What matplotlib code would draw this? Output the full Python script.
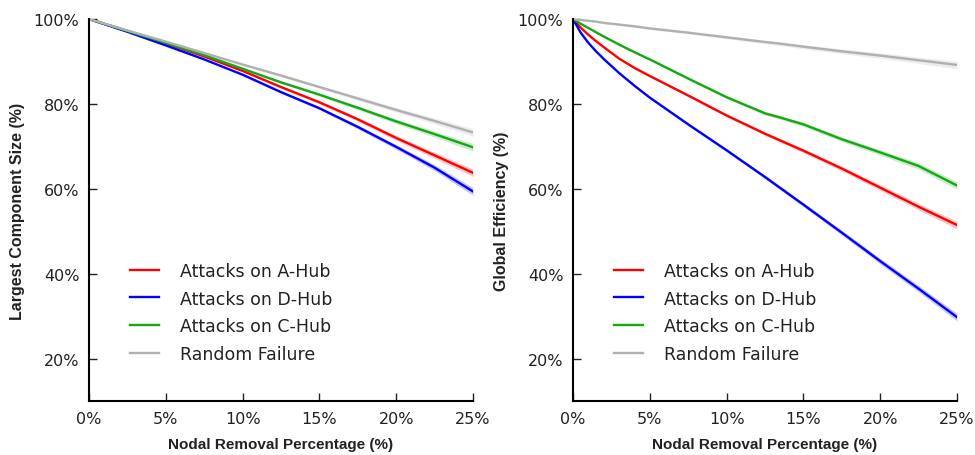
import numpy as np
import matplotlib.pyplot as plt
from matplotlib.ticker import FuncFormatter

# Porcentaje de nodos eliminados (%) - panel izquierdo
x_lcs = [0, 2.5, 5, 7.5, 10, 12.5, 15, 17.5, 20, 22.5, 25]

# Tamaño de la componente más grande (%)
lcs_a_hub = [100, 97.2, 94.3, 91.2, 87.8, 84.0, 80.4, 76.4, 72.0, 67.9, 63.8]
lcs_d_hub = [100, 97.0, 93.8, 90.5, 86.9, 82.8, 79.0, 74.6, 69.9, 65.0, 59.4]
lcs_c_hub = [100, 97.2, 94.4, 91.5, 88.3, 85.1, 82.2, 79.1, 75.9, 72.9, 69.8]
lcs_random = [100, 97.3, 94.7, 92.0, 89.3, 86.7, 84.0, 81.3, 78.6, 76.0, 73.3]
band_lcs = [0, 0.1, 0.15, 0.2, 0.25, 0.3, 0.35, 0.45, 0.55, 0.7, 0.9]

# Porcentaje de nodos eliminados (%) - panel derecho
x_ge = [0, 0.5, 1, 1.5, 2, 3, 4, 5, 7.5, 10, 12.5, 13.5, 15, 17.5, 20, 22.5, 25]

# Eficiencia global (%)
ge_a_hub = [100, 98.0, 96.3, 94.8, 93.4, 90.7, 88.5, 86.6, 82.0, 77.3, 73.0, 71.4,
            69.0, 64.8, 60.3, 55.8, 51.5]
ge_d_hub = [100, 96.8, 94.4, 92.4, 90.6, 87.3, 84.3, 81.5, 75.2, 69.1, 62.8, 60.2,
            56.3, 49.7, 43.0, 36.5, 29.8]
ge_c_hub = [100, 98.9, 97.9, 96.9, 95.9, 94.0, 92.2, 90.5, 86.0, 81.6, 77.8, 76.8,
            75.2, 71.7, 68.6, 65.4, 60.8]
ge_random = [100, 99.8, 99.6, 99.4, 99.1, 98.7, 98.3, 97.8, 96.8, 95.7, 94.6, 94.2,
             93.5, 92.4, 91.4, 90.3, 89.2]
band_ge = [0, 0.1, 0.15, 0.15, 0.2, 0.2, 0.25, 0.25, 0.3, 0.35, 0.4, 0.45,
           0.5, 0.55, 0.65, 0.75, 0.9]

labels = ['Attacks on A-Hub', 'Attacks on D-Hub', 'Attacks on C-Hub', 'Random Failure']
colors = ['#ff0000', '#0000ff', '#14a814', '#b0b0b0']

fig = plt.figure(figsize=(9.75, 4.56), dpi=100)
ax1 = fig.add_axes([0.0913, 0.118, 0.3938, 0.838])
ax2 = fig.add_axes([0.5877, 0.118, 0.3938, 0.838])

paneles = [
    (ax1, x_lcs, [lcs_a_hub, lcs_d_hub, lcs_c_hub, lcs_random], band_lcs,
     'Largest Component Size (%)'),
    (ax2, x_ge, [ge_a_hub, ge_d_hub, ge_c_hub, ge_random], band_ge,
     'Global Efficiency (%)'),
]

for ax, x, series, band, ylabel in paneles:
    xs = np.array(x)
    b = np.array(band)
    for vals, lab, col in zip(series, labels, colors):
        vals = np.array(vals)
        ax.fill_between(xs, vals - b, vals + b, color=col, alpha=0.22, lw=0)
        ax.plot(xs, vals, color=col, lw=1.7, label=lab, solid_joinstyle='round')

    ax.set_xlim(0, 25)
    ax.set_ylim(10, 100)
    ax.set_xticks([0, 5, 10, 15, 20, 25])
    ax.set_yticks([20, 40, 60, 80, 100])
    ax.xaxis.set_major_formatter(FuncFormatter(lambda v, p: '%d%%' % v))
    ax.yaxis.set_major_formatter(FuncFormatter(lambda v, p: '%d%%' % v))
    ax.tick_params(direction='in', length=6, width=1, labelsize=11.5, pad=7,
                   colors='#222222')
    ax.spines['top'].set_visible(False)
    ax.spines['right'].set_visible(False)
    ax.spines['left'].set_linewidth(1.5)
    ax.spines['bottom'].set_linewidth(1.5)
    ax.set_xlabel('Nodal Removal Percentage (%)', family='Liberation Sans',
                  fontsize=11, fontweight='bold', color='#222222', labelpad=8)
    ax.set_ylabel(ylabel, family='Liberation Sans', fontsize=11.5,
                  fontweight='bold', color='#222222', labelpad=6)

    leg = ax.legend(loc='lower left', bbox_to_anchor=(0.065, 0.06), frameon=False,
                    fontsize=12.5, handlelength=1.7, handletextpad=1.2,
                    labelspacing=0.55)
    for line in leg.get_lines():
        line.set_linewidth(1.7)
    for t in leg.get_texts():
        t.set_color('#222222')

fig.savefig('out.png', dpi=100)
